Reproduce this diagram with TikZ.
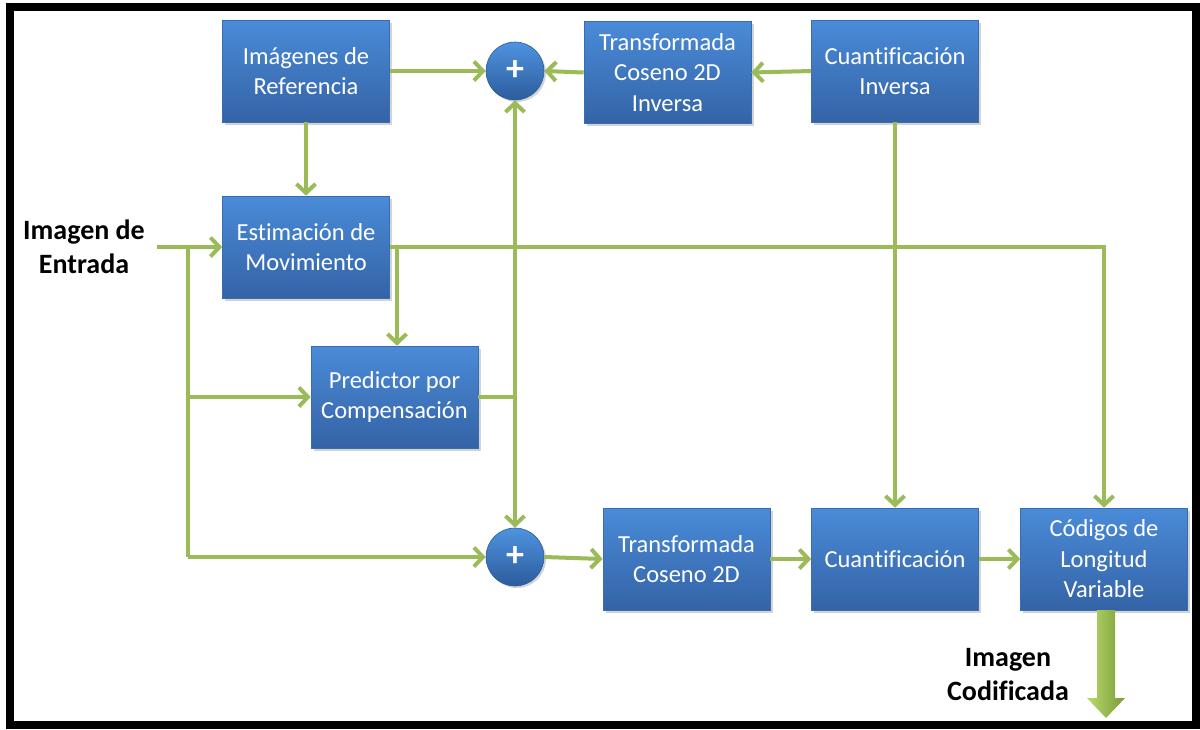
\documentclass[tikz,border=0pt]{standalone}
\usepackage{fontspec}
\setmainfont{Carlito}[Ligatures=NoCommon]
\usetikzlibrary{arrows.meta,shadows,calc}
\definecolor{flow}{HTML}{9BBB59}
\definecolor{boxtop}{HTML}{4A8BD8}
\definecolor{boxbot}{HTML}{3463A6}
\definecolor{boxedge}{HTML}{3A6CB0}
\definecolor{ballhi}{HTML}{4F93E0}
\definecolor{balllo}{HTML}{2C5C9C}
\definecolor{outlt}{HTML}{B9DA6C}
\definecolor{outdk}{HTML}{7B9B38}
\begin{document}
\begin{tikzpicture}[x=1pt,y=-1pt,
  block/.style={rectangle, minimum width=167pt, minimum height=102pt, inner sep=2pt,
    top color=boxtop, bottom color=boxbot, draw=boxedge, line width=0.6pt,
    text=white, align=center, font=\fontsize{24.5}{30.5}\selectfont,
    drop shadow={shadow xshift=2.5pt, shadow yshift=-2.5pt, opacity=0.35}},
  adder/.style={circle, minimum size=58pt, inner sep=0pt,
    top color=ballhi, bottom color=balllo, draw=balllo, line width=0.6pt,
    text=white, font=\fontsize{36}{36}\selectfont\bfseries,
    drop shadow={shadow xshift=2pt, shadow yshift=-2pt, opacity=0.35}},
  flowline/.style={draw=flow, line width=4pt},
  flowarrow/.style={flowline, -{Straight Barb[length=9pt,width=19pt]}},
  tag/.style={align=center, font=\fontsize{28}{34}\selectfont\bfseries}
]
\useasboundingbox (0,0) rectangle (1200,729);
% outer frame
\draw[line width=8pt] (9.5,7) rectangle (1196,725);

% processing blocks
\node[block] (ref)  at (306,71)    {Imágenes de\\Referencia};
\node[block] (est)  at (306,247)   {Estimación de\\Movimiento};
\node[block] (pred) at (394.5,397) {Predictor por\\Compensación};
\node[block] (tci)  at (667.5,72.5){Transformada\\Coseno 2D\\Inversa};
\node[block] (cqi)  at (895,71)    {Cuantificación\\Inversa};
\node[block] (tc)   at (686.5,559) {Transformada\\Coseno 2D};
\node[block] (cq)   at (895,559)   {Cuantificación};
\node[block] (vlc)  at (1104,559)  {Códigos de\\Longitud\\Variable};

% adders
\node[adder] (plusT) at (515,71)  {+};
\node[adder] (plusB) at (515,557) {+};

% labels
\node[tag] (inlabel)  at (84,247)   {Imagen de\\Entrada};
\node[tag] (outlabel) at (1008,675) {Imagen\\Codificada};

% junction points
\coordinate (in) at (157,247);
\coordinate (j1) at (188,247);
\coordinate (j2) at (397,247);
\coordinate (j3) at (515,397);

% reconstruction loop
\draw[flowarrow] (ref.east) -- (plusT.west);
\draw[flowarrow] (cqi.west) -- (tci.east);
\draw[flowarrow] (tci.west) -- (plusT.east);
\draw[flowarrow] (ref.south) -- (est.north);

% input distribution
\draw[flowarrow] (in) -- (est.west);
\draw[flowline] (j1) -- (j1 |- plusB);
\draw[flowarrow] (j1 |- pred) -- (pred.west);
\draw[flowarrow] (j1 |- plusB) -- (plusB.west);

% motion vectors
\draw[flowarrow] (est.east) -| (vlc.north);
\draw[flowarrow] (j2) -- (j2 |- pred.north);

% prediction to both adders
\draw[flowline] (pred.east) -- (j3);
\draw[flowarrow] (j3) -- (plusT.south);
\draw[flowarrow] (j3) -- (plusB.north);

% forward path
\draw[flowarrow] (cqi.south) -- (cq.north);
\draw[flowarrow] (plusB.east) -- (tc.west);
\draw[flowarrow] (tc.east) -- (cq.west);
\draw[flowarrow] (cq.east) -- (vlc.west);

% coded output arrow
\shade[left color=outlt, right color=outdk]
  (1097,610) -- (1097,698) -- (1087,698) -- (1106,718) -- (1125,698)
  -- (1115,698) -- (1115,610) -- cycle;
\end{tikzpicture}
\end{document}
